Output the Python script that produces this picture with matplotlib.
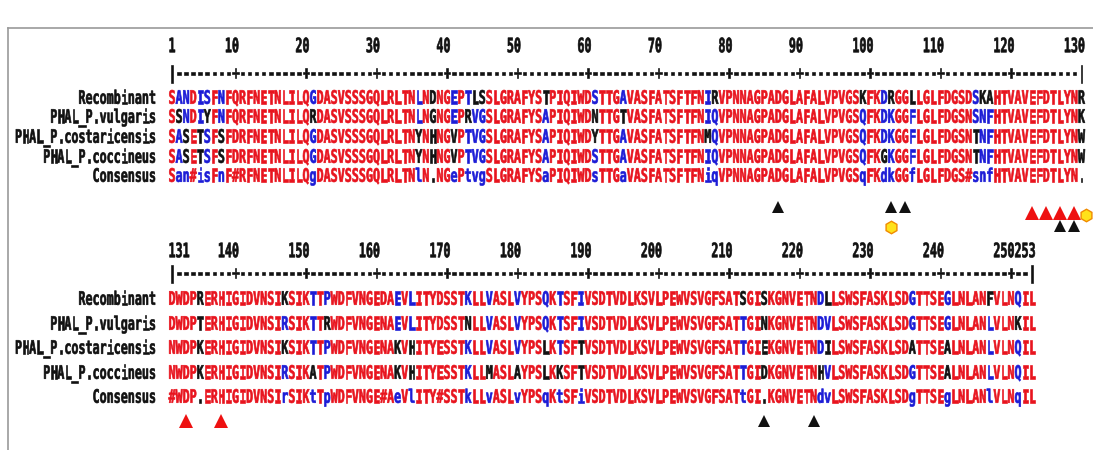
import matplotlib
matplotlib.use("Agg")
import matplotlib.pyplot as plt
import matplotlib.transforms as mtransforms
from matplotlib.textpath import TextPath
from matplotlib.patches import PathPatch
from matplotlib.font_manager import FontProperties

# --- Alineamiento (Multalin) ---
nombres = ["Recombinant", "PHAL_P.vulgaris", "PHAL_P.costaricensis",
           "PHAL_P.coccineus", "Consensus"]

# Bloque 1: posiciones 1-130
rec_1 = "SANDISFNFQRFNETNLILQGDASVSSSGQLRLTNLNDNGEPTLSSLGRAFYSTPIQIWDSTTGAVASFATSFTFNIRVPNNAGPADGLAFALVPVGSKFKDRGGLLGLFDGSDSKAHTVAVEFDTLYNR"
vul_1 = "SSNDIYFNFQRFNETNLILQRDASVSSSGQLRLTNLNGNGEPRVGSLGRAFYSAPIQIWDNTTGTVASFATSFTFNIQVPNNAGPADGLAFALVPVGSQFKDKGGFLGLFDGSNSNFHTVAVEFDTLYNK"
cos_1 = "SASETSFSFDRFNETNLILQGDASVSSSGQLRLTNYNHNGVPTVGSLGRAFYSAPIQIWDYTTGAVASFATSFTFNMQVPNNAGPADGLAFALVPVGSQFKDKGGFLGLFDGSNTNFHTVAVEFDTLYNW"
coc_1 = "SASETSFSFDRFNETNLILQGDASVSSSGQLRLTNYNHNGVPTVGSLGRAFYSAPIQIWDSTTGAVASFATSFTFNIQVPNNAGPADGLAFALVPVGSQFKGKGGFLGLFDGSNTNFHTVAVEFDTLYNW"
con_1 = "San#isFnF#RFNETNLILQgDASVSSSGQLRLTNlN.NGePtvgSLGRAFYSaPIQIWDsTTGaVASFATSFTFNiqVPNNAGPADGLAFALVPVGSqFKdkGGfLGLFDGS#snfHTVAVEFDTLYN."

# Bloque 2: posiciones 131-253
rec_2 = "DWDPRERHIGIDVNSIKSIKTTPWDFVNGEDAEVLITYDSSTKLLVASLVYPSQKTSFIVSDTVDLKSVLPEWVSVGFSATSGISKGNVETNDLLSWSFASKLSDGTTSEGLNLANFVLNQIL"
vul_2 = "DWDPTERHIGIDVNSIRSIKTTRWDFVNGENAEVLITYDSSTNLLVASLVYPSQKTSFIVSDTVDLKSVLPEWVSVGFSATTGINKGNVETNDVLSWSFASKLSDGTTSEGLNLANLVLNKIL"
cos_2 = "NWDPKERHIGIDVNSIKSIKTTPWDFVNGENAKVHITYESSTKLLVASLVYPSLKTSFTVSDTVDLKSVLPEWVSVGFSATTGIEKGNVETNDILSWSFASKLSDATTSEALNLANLVLNQIL"
coc_2 = "NWDPKERHIGIDVNSIRSIKATPWDFVNGENAKVHITYESSTKLLMASLAYPSLKKSFTVSDTVDLKSVLPEWVSVGFSATTGIDKGNVETNHVLSWSFASKLSDGTTSEALNLANLVLNQIL"
con_2 = "#WDP.ERHIGIDVNSIrSIKtTpWDFVNGE#AeVlITY#SSTkLLvASLvYPSqKtSFiVSDTVDLKSVLPEWVSVGFSATtGI.KGNVETNdvLSWSFASKLSDgTTSEgLNLANlVLNqIL"

# Numeración de cada bloque
num_1 = [1, 10, 20, 30, 40, 50, 60, 70, 80, 90, 100, 110, 120, 130]
num_2 = [131, 140, 150, 160, 170, 180, 190, 200, 210, 220, 230, 240, 250, 253]

# Marcas bajo el consenso (posición en el alineamiento)
tri_negro_1 = [87, 103, 105]
tri_rojo_1 = [123, 125, 127, 129]
tri_negro_bajo_1 = [127, 129]
hex_1 = [103, 131]
tri_rojo_2 = [133, 138]
tri_negro_2 = [215, 222]

ROJO = "#e8141e"
AZUL = "#1c1cd6"
NEGRO = "#111111"
GRUPO = "NDQEBZ"

# Geometría de la letra (px)
X0 = 168.5
PASO = 7.05
ALTO = 13.5

fp = FontProperties(family="DejaVu Sans Mono", weight="bold")
_paths = {}


def letra(ax, ch, x, y, color, alto=ALTO):
    """Dibuja un carácter estrecho y alto con la celda izquierda en x, centro vertical en y."""
    if ch == " ":
        return
    if ch not in _paths:
        _paths[ch] = TextPath((0, 0), ch, size=1, prop=fp)
    sx = PASO / 0.602
    sy = alto / 0.729
    tr = mtransforms.Affine2D().scale(sx, -sy).translate(x, y + alto / 2) + ax.transData
    ax.add_patch(PathPatch(_paths[ch], facecolor=color, edgecolor=color,
                           lw=0.45, transform=tr))


def color_residuo(res, c):
    if c == "#":
        return ROJO if res in GRUPO else NEGRO
    if c.isalpha() and res == c.upper():
        return ROJO if c.isupper() else AZUL
    return NEGRO


def color_consenso(c):
    if c == "#" or c.isupper():
        return ROJO
    if c.islower():
        return AZUL
    return NEGRO


def px(k):
    # borde izquierdo de la columna k (0 = primera columna del bloque)
    return X0 + k * PASO


def bloque(ax, filas, inicio, numeros, y_num, y_regla, y_filas):
    n = len(filas[0])
    # numeración
    for v in numeros:
        k = v - inicio
        txt = str(v)
        if v == inicio:
            k0 = 0
        else:
            k0 = k - len(txt) + 1
        for j, ch in enumerate(txt):
            letra(ax, ch, px(k0 + j), y_num, NEGRO, 14.5)
    # regla
    for k in range(n):
        pos = inicio + k
        if k == 0 or k == n - 1:
            ch = "|"
        elif pos % 10 == 0:
            ch = "+"
        else:
            ch = "-"
        letra(ax, ch, px(k), y_regla, NEGRO)
    # nombres y secuencias
    consenso = filas[-1]
    for nombre, seq, y in zip(nombres, filas, y_filas):
        x_ini = 156 - len(nombre) * PASO
        for j, ch in enumerate(nombre):
            letra(ax, ch, x_ini + j * PASO, y, NEGRO)
        for k, ch in enumerate(seq):
            if seq is consenso:
                col = color_consenso(ch)
            else:
                col = color_residuo(ch, consenso[k])
            letra(ax, ch, px(k), y, col)


fig = plt.figure(figsize=(10.93, 4.5), dpi=100)
ax = fig.add_axes([0, 0, 1, 1])
ax.set_xlim(0, 1093)
ax.set_ylim(450, 0)
ax.axis("off")

# marco
ax.plot([8, 8], [28, 450], color="#9a9a9a", lw=1.2)
ax.plot([8, 1093], [28, 28], color="#9a9a9a", lw=1.2)

bloque(ax, [rec_1, vul_1, cos_1, coc_1, con_1], 1, num_1, 45, 72,
       [97, 116, 136, 156, 175])
bloque(ax, [rec_2, vul_2, cos_2, coc_2, con_2], 131, num_2, 250, 272,
       [298, 323, 347, 372, 396])


def xc(pos, inicio):
    return px(pos - inicio) + PASO / 2


ax.plot([xc(p, 1) for p in tri_negro_1], [207] * len(tri_negro_1), "^",
        color=NEGRO, ms=9, mew=0)
ax.plot([xc(p, 1) for p in tri_rojo_1], [213] * len(tri_rojo_1), "^",
        color="#ee1111", ms=10, mew=0)
ax.plot([xc(p, 1) for p in tri_negro_bajo_1], [226] * len(tri_negro_bajo_1), "^",
        color=NEGRO, ms=9, mew=0)
ax.plot([xc(hex_1[0], 1)], [227], "h", color="#ffe21a", mec="#f08a00", ms=9, mew=1)
ax.plot([xc(hex_1[1], 1) - 3], [215], "h", color="#ffe21a", mec="#f08a00", ms=9, mew=1)
ax.plot([xc(p, 131) for p in tri_rojo_2], [421] * len(tri_rojo_2), "^",
        color="#ee1111", ms=10, mew=0)
ax.plot([xc(p, 131) for p in tri_negro_2], [421] * len(tri_negro_2), "^",
        color=NEGRO, ms=9, mew=0)

fig.savefig("out.png", dpi=100)
